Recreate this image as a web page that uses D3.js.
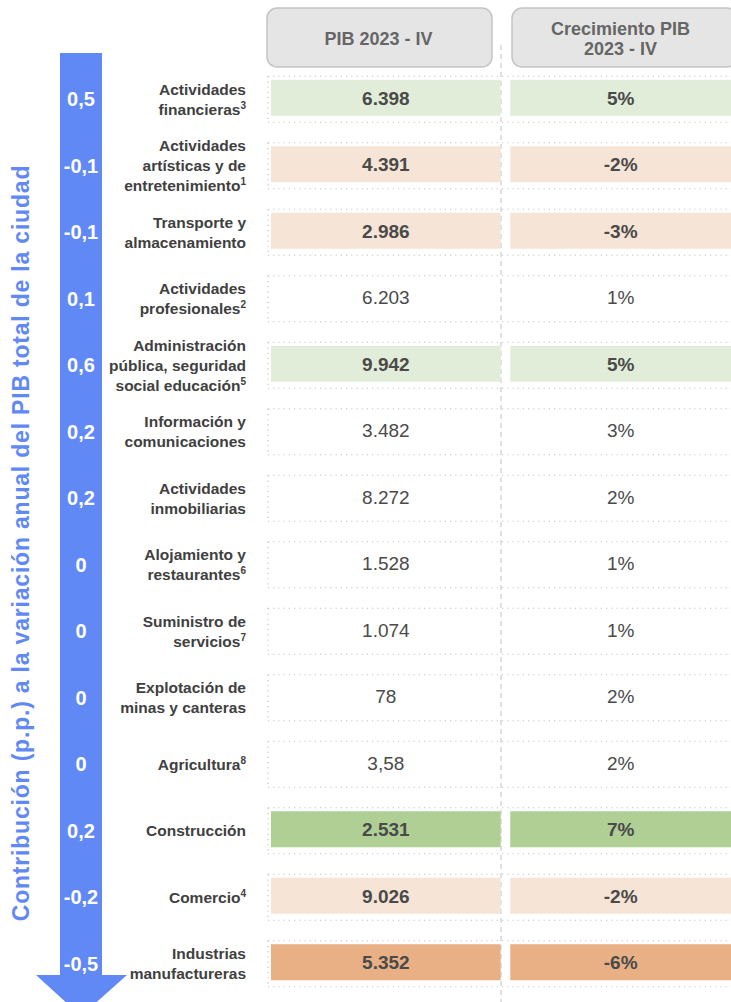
<!DOCTYPE html>
<html>
<head>
<meta charset="utf-8">
<script src="https://cdn.jsdelivr.net/npm/d3@7"></script>
<style>
  body { margin: 0; background: #fff; }
  svg { display: block; font-family: "Liberation Sans", Arial, Helvetica, sans-serif; }
</style>
</head>
<body>
<div id="chart"></div>
<script>
// sector names, "|" marks a line break
var sectors = [
  'Actividades|financieras',
  'Actividades|artísticas y de|entretenimiento',
  'Transporte y|almacenamiento',
  'Actividades|profesionales',
  'Administración|pública, seguridad|social educación',
  'Información y|comunicaciones',
  'Actividades|inmobiliarias',
  'Alojamiento y|restaurantes',
  'Suministro de|servicios',
  'Explotación de|minas y canteras',
  'Agricultura',
  'Construcción',
  'Comercio',
  'Industrias|manufactureras'
];
var notes = ['3', '1', '', '2', '5', '', '', '6', '7', '', '8', '', '4', ''];
var contribution = ['0,5', '-0,1', '-0,1', '0,1', '0,6', '0,2', '0,2', '0', '0', '0', '0', '0,2', '-0,2', '-0,5'];
var pib = ['6.398', '4.391', '2.986', '6.203', '9.942', '3.482', '8.272', '1.528', '1.074', '78', '3,58', '2.531', '9.026', '5.352'];
var growth = [5, -2, -3, 1, 5, 3, 2, 1, 1, 2, 2, 7, -2, -6];
var columns = ['PIB 2023 - IV', 'Crecimiento PIB|2023 - IV'];
var axisTitle = 'Contribución (p.p.) a la variación anual del PIB total de la ciudad';

var W = 731, H = 1002;
var blue = '#6189f5';

var svg = d3.select('#chart').append('svg')
  .attr('width', W)
  .attr('height', H);

var rows = d3.range(sectors.length);

var y = d3.scaleBand()
  .domain(rows)
  .range([66, 66 + 66.5 * rows.length]);

// cell columns
var x = d3.scaleBand()
  .domain(d3.range(columns.length))
  .range([271, 740])
  .paddingInner(0.04);

// header columns
var xh = d3.scaleBand()
  .domain(d3.range(columns.length))
  .range([267, 737])
  .paddingInner(20 / 245);

// fill by growth
var fill = d3.scaleThreshold()
  .domain([-5, 0, 4, 6])
  .range(['#e9b086', '#f6e4d6', 'none', '#e2edd9', '#afcf95']);

function cy(i) { return y(i) + y.bandwidth() / 2; }
function mid(scale, c) { return (scale(c) + Math.min(scale(c) + scale.bandwidth(), W)) / 2; }

// header boxes
var head = svg.selectAll('g.head')
  .data(columns)
  .enter().append('g')
  .attr('class', 'head');

head.append('rect')
  .attr('x', function(d, i) { return xh(i); })
  .attr('y', 8)
  .attr('width', xh.bandwidth())
  .attr('height', 59)
  .attr('rx', 10)
  .attr('fill', '#e5e5e5')
  .attr('stroke', '#c3c3c3')
  .attr('stroke-width', 1.5);

head.each(function(d, i) {
  var lines = d.split('|');
  d3.select(this).selectAll('text')
    .data(lines)
    .enter().append('text')
    .attr('x', mid(xh, i) - 1)
    .attr('y', function(l, k) { return 38.5 + (k - (lines.length - 1) / 2) * 20; })
    .attr('text-anchor', 'middle')
    .attr('dominant-baseline', 'central')
    .attr('font-size', 18)
    .attr('font-weight', 'bold')
    .attr('fill', '#666')
    .text(function(l) { return l; });
});

// dashed column divider
svg.append('line')
  .attr('x1', 501).attr('x2', 501)
  .attr('y1', 45).attr('y2', H)
  .attr('stroke', '#c2c2c2')
  .attr('stroke-width', 1)
  .attr('stroke-dasharray', '5 4');

var row = svg.selectAll('g.row')
  .data(rows)
  .enter().append('g')
  .attr('class', 'row');

// dotted frame of each row
row.append('line')
  .attr('x1', 268).attr('x2', W)
  .attr('y1', function(i) { return cy(i) - 23; })
  .attr('y2', function(i) { return cy(i) - 23; });
row.append('line')
  .attr('x1', 268).attr('x2', W)
  .attr('y1', function(i) { return cy(i) + 23; })
  .attr('y2', function(i) { return cy(i) + 23; });
row.append('line')
  .attr('x1', 268).attr('x2', 268)
  .attr('y1', function(i) { return cy(i) - 23; })
  .attr('y2', function(i) { return cy(i) + 23; });
row.selectAll('line')
  .attr('stroke', '#c4c4c4')
  .attr('stroke-width', 1.2)
  .attr('stroke-dasharray', '1.2 4');

// coloured cells, values and labels
rows.forEach(function(i) {
  var g = row.filter(function(r) { return r === i; });
  var f = fill(growth[i]);
  var strong = f !== 'none';
  [pib[i], growth[i] + '%'].forEach(function(val, c) {
    if (strong) {
      g.append('rect')
        .attr('x', x(c))
        .attr('y', cy(i) - 19.5)
        .attr('width', x.bandwidth())
        .attr('height', 36)
        .attr('fill', f);
    }
    g.append('text')
      .attr('x', mid(x, c))
      .attr('y', cy(i) - 1)
      .attr('text-anchor', 'middle')
      .attr('dominant-baseline', 'central')
      .attr('font-size', 19)
      .attr('font-weight', strong ? 'bold' : 'normal')
      .attr('fill', '#4a4a4a')
      .text(val);
  });

  var lines = sectors[i].split('|');
  var t = g.append('text')
    .attr('text-anchor', 'end')
    .attr('font-size', 15.5)
    .attr('font-weight', 'bold')
    .attr('fill', '#404040');
  lines.forEach(function(l, k) {
    t.append('tspan')
      .attr('x', 246)
      .attr('y', cy(i) + 5.5 + (k - (lines.length - 1) / 2) * 20)
      .text(l);
    if (k === lines.length - 1 && notes[i]) {
      t.append('tspan')
        .attr('dy', -6)
        .attr('font-size', 10)
        .text(notes[i]);
    }
  });
});

// big arrow
var arrow = d3.path();
arrow.moveTo(60, 53);
arrow.lineTo(102, 53);
arrow.lineTo(102, 975);
arrow.lineTo(127, 975);
arrow.lineTo(81, 1016);
arrow.lineTo(36, 975);
arrow.lineTo(60, 975);
arrow.closePath();
svg.append('path')
  .attr('d', arrow.toString())
  .attr('fill', blue);

svg.selectAll('text.contrib')
  .data(rows)
  .enter().append('text')
  .attr('class', 'contrib')
  .attr('x', 81)
  .attr('y', function(i) { return cy(i); })
  .attr('text-anchor', 'middle')
  .attr('dominant-baseline', 'central')
  .attr('font-size', 20)
  .attr('font-weight', 'bold')
  .attr('fill', '#fff')
  .text(function(i) { return contribution[i]; });

// vertical title
svg.append('text')
  .attr('transform', 'translate(21,543) rotate(-90)')
  .attr('text-anchor', 'middle')
  .attr('dominant-baseline', 'central')
  .attr('font-size', 23)
  .attr('font-weight', 'bold')
  .attr('letter-spacing', 0.8)
  .attr('fill', blue)
  .text(axisTitle);
</script>
</body>
</html>
